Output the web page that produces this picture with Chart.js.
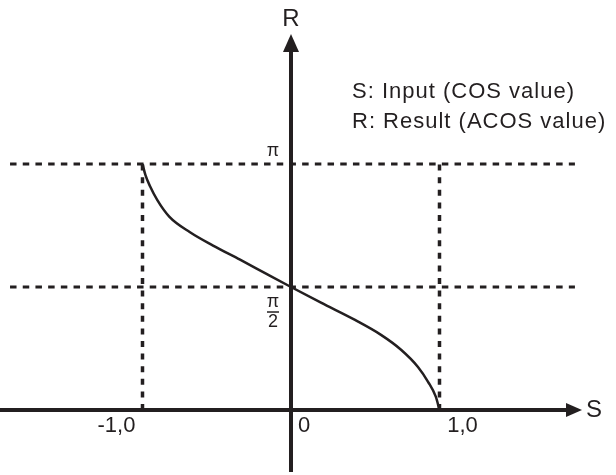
<!DOCTYPE html>
<html lang="en">
<head>
    <meta charset="UTF-8">
    <title>ACOS</title>
    <script src="https://cdn.jsdelivr.net/npm/chart.js"></script>
    <style>
        body { margin: 0; background: #ffffff; }
        canvas { display: block; }
    </style>
</head>
<body>
    <canvas id="acosChart" width="616" height="475"></canvas>
    <script>
        // curve (S = cos value, R = acos value)
        const curveS = [-1.0, -0.98, -0.95, -0.90, -0.82, -0.68, -0.525, -0.343, -0.162, 0, 0.202, 0.431, 0.606, 0.741, 0.855, 0.923, 0.975, 1.0];
        const curveR = [3.1416, 3.0, 2.86, 2.68, 2.47, 2.27, 2.10, 1.92, 1.735, 1.5708, 1.37, 1.15, 0.96, 0.77, 0.55, 0.36, 0.17, 0];

        const sTicks = [-1, 0, 1];
        const sTickLabels = ["-1,0", "0", "1,0"];
        const rTicks = [Math.PI, Math.PI / 2];
        const legendLines = ["S: Input (COS value)", "R: Result (ACOS value)"];

        const ink = "#231f20";
        const font = "'Liberation Sans', Arial, sans-serif";

        let curvePoints = curveS.map((s, i) => ({ x: s, y: curveR[i] }));

        // dashed guide lines at pi and pi/2, dotted verticals at -1 and 1
        let guides = [];
        rTicks.forEach(r => {
            guides.push({
                data: [{ x: -1.892, y: r }, { x: 1.912, y: r }],
                borderColor: ink, borderWidth: 3, borderDash: [6.5, 6.2],
                pointRadius: 0, showLine: true, fill: false
            });
        });
        [-1, 1].forEach(s => {
            guides.push({
                data: [{ x: s, y: 0 }, { x: s, y: Math.PI }],
                borderColor: ink, borderWidth: 3.5, borderDash: [6, 6.6],
                pointRadius: 0, showLine: true, fill: false
            });
        });

        const axesPlugin = {
            id: "axesPlugin",
            afterDatasetsDraw(chart) {
                const ctx = chart.ctx;
                const xs = chart.scales.x, ys = chart.scales.y;
                const ox = xs.getPixelForValue(0);
                const oy = ys.getPixelForValue(0);
                ctx.save();
                ctx.strokeStyle = ink;
                ctx.fillStyle = ink;
                ctx.lineWidth = 4;

                // horizontal axis + arrow
                ctx.beginPath();
                ctx.moveTo(0, oy);
                ctx.lineTo(ox + 277, oy);
                ctx.stroke();
                ctx.beginPath();
                ctx.moveTo(ox + 291, oy);
                ctx.lineTo(ox + 275, oy - 7);
                ctx.lineTo(ox + 275, oy + 7);
                ctx.closePath();
                ctx.fill();

                // vertical axis + arrow
                ctx.beginPath();
                ctx.moveTo(ox, oy + 62);
                ctx.lineTo(ox, oy - 360);
                ctx.stroke();
                ctx.beginPath();
                ctx.moveTo(ox, oy - 376);
                ctx.lineTo(ox - 8, oy - 358);
                ctx.lineTo(ox + 8, oy - 358);
                ctx.closePath();
                ctx.fill();

                // axis names
                ctx.textBaseline = "middle";
                ctx.textAlign = "center";
                ctx.font = "24px " + font;
                ctx.fillText("R", ox, 19);
                ctx.textAlign = "left";
                ctx.fillText("S", ox + 295, oy);

                // S tick labels
                ctx.font = "22px " + font;
                ctx.textAlign = "center";
                const offs = [-26, 13, 23];
                sTicks.forEach((s, i) => {
                    ctx.fillText(sTickLabels[i], xs.getPixelForValue(s) + offs[i], oy + 16);
                });

                // R tick labels
                ctx.font = "18px " + font;
                const py = ys.getPixelForValue(rTicks[0]);
                ctx.fillText("\u03c0", ox - 18, py - 13);
                const hy = ys.getPixelForValue(rTicks[1]);
                ctx.fillText("\u03c0", ox - 18, hy + 15);
                ctx.lineWidth = 1.5;
                ctx.beginPath();
                ctx.moveTo(ox - 24, hy + 25);
                ctx.lineTo(ox - 12, hy + 25);
                ctx.stroke();
                ctx.fillText("2", ox - 18, hy + 35);

                // legend text
                ctx.font = "22px " + font;
                ctx.letterSpacing = "1px";
                ctx.textAlign = "left";
                ctx.fillText(legendLines[0], ox + 61, 92);
                ctx.fillText(legendLines[1], ox + 61, 122);
                ctx.restore();
            }
        };

        new Chart(document.getElementById("acosChart"), {
            type: "scatter",
            data: {
                datasets: guides.concat([{
                    data: curvePoints,
                    borderColor: ink,
                    borderWidth: 2.5,
                    pointRadius: 0,
                    showLine: true,
                    fill: false,
                    cubicInterpolationMode: "monotone"
                }])
            },
            options: {
                responsive: false,
                animation: false,
                layout: { padding: 0 },
                plugins: { legend: { display: false }, tooltip: { enabled: false } },
                scales: {
                    x: { type: "linear", display: false, min: -1.9596, max: 2.1886 },
                    y: { type: "linear", display: false, min: -0.830, max: 5.236 }
                }
            },
            plugins: [axesPlugin]
        });
    </script>
</body>
</html>
